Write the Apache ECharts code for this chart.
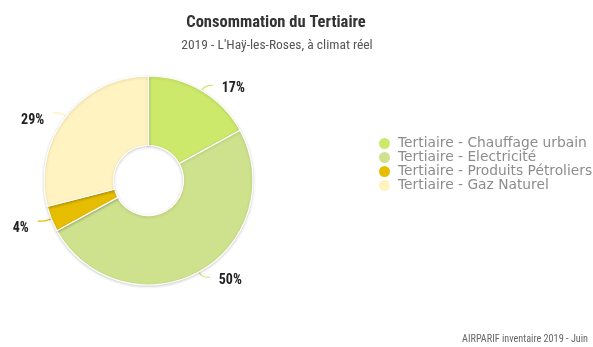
<!DOCTYPE html>
<html>
<head>
<meta charset="utf-8">
<script src="https://cdn.jsdelivr.net/npm/echarts@6/dist/echarts.min.js"></script>
<style>
  html, body { margin: 0; padding: 0; background: #fff; }
  #chart { width: 593px; height: 347px; }
</style>
</head>
<body>
<div id="chart"></div>
<script>
// Energy consumption of the tertiary sector, by energy type (%)
const categories = [
  'Tertiaire - Chauffage urbain',
  'Tertiaire - Electricité',
  'Tertiaire - Produits Pétroliers',
  'Tertiaire - Gaz Naturel'
];
const shares = [17, 50, 4, 29];
const colors = ['#cde96c', '#cee28d', '#e6bd00', '#fff3c1'];

const condensed = '"Roboto Condensed", Roboto, sans-serif';

const chart = echarts.init(document.getElementById('chart'), null, { renderer: 'canvas' });
chart.setOption({
  animation: false,
  title: [
    {
      text: 'Consommation du Tertiaire',
      left: 271, top: 9, textAlign: 'center',
      textStyle: { fontFamily: condensed, fontWeight: 'bold', fontSize: 16.5, color: '#333' }
    },
    {
      text: "2019 - L'Haÿ-les-Roses, à climat réel",
      left: 272, top: 34, textAlign: 'center',
      textStyle: { fontFamily: condensed, fontWeight: 'normal', fontSize: 13.5, color: '#555' }
    },
    {
      text: 'AIRPARIF inventaire 2019 - Juin',
      right: 0, top: 329,
      textStyle: { fontFamily: condensed, fontWeight: 'normal', fontSize: 10.2, color: '#666' }
    }
  ],
  legend: {
    orient: 'vertical',
    left: 377, top: 136,
    padding: 0,
    icon: 'circle',
    itemWidth: 13, itemHeight: 13,
    itemGap: -1,
    data: categories,
    textStyle: {
      fontFamily: '"DejaVu Sans", Verdana, sans-serif',
      fontSize: 13.8, color: '#8c8c8c',
      lineHeight: 14, padding: [0, 0, 0, 2]
    }
  },
  series: [{
    type: 'pie',
    center: [148.5, 180.5],
    radius: [35, 104.5],
    startAngle: 90,
    clockwise: true,
    color: colors,
    itemStyle: {
      borderColor: '#fff', borderWidth: 1.2,
      shadowColor: 'rgba(0,0,0,0.18)', shadowBlur: 3, shadowOffsetY: 1
    },
    label: {
      position: 'outside',
      formatter: p => Math.round(p.percent) + '%',
      fontFamily: condensed,
      fontWeight: 'bold',
      fontSize: 14,
      color: '#222',
      distanceToLabelLine: 9
    },
    labelLine: { show: true, length: 6, length2: 8, smooth: 0.5, lineStyle: { width: 1.3 } },
    labelLayout: p => ({ dy: p.labelRect.x < 148 ? 7.5 : 3.5 }),
    data: categories.map((name, i) => ({ name, value: shares[i] }))
  }]
});
</script>
</body>
</html>
